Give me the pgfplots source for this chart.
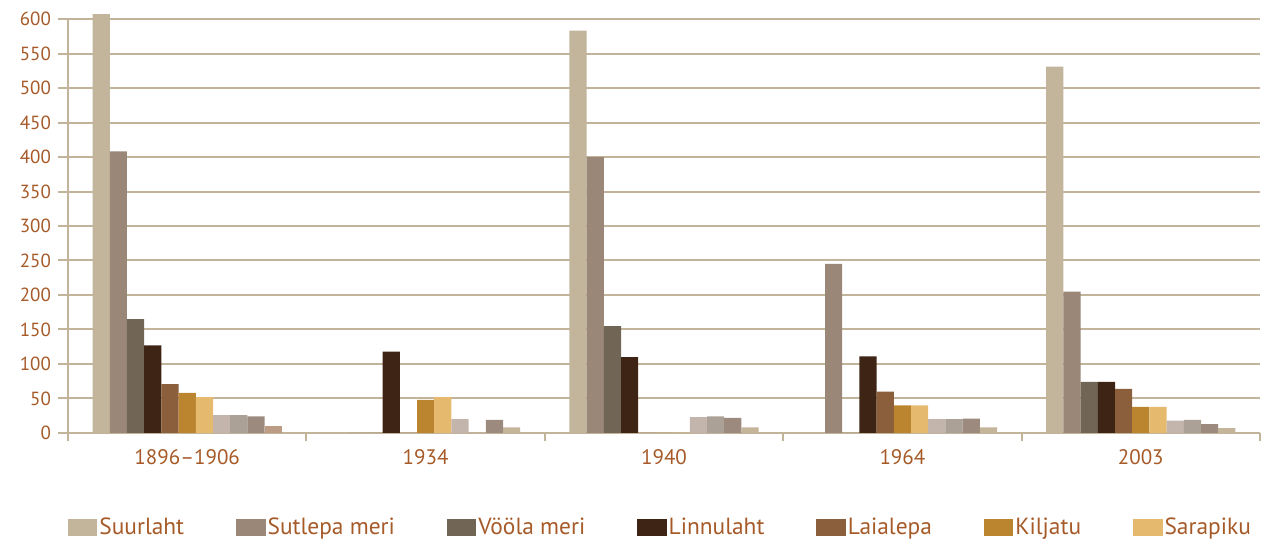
\documentclass[border=0pt]{standalone}
\usepackage{fontspec}
\setmainfont{PT Sans}
\usepackage{pgfplots}
\pgfplotsset{compat=1.18}
\definecolor{c1}{HTML}{C2B59B}
\definecolor{c2}{HTML}{9A8778}
\definecolor{c3}{HTML}{716656}
\definecolor{c4}{HTML}{3E2415}
\definecolor{c5}{HTML}{8B5E3C}
\definecolor{c6}{HTML}{BB8530}
\definecolor{c7}{HTML}{E6BA6E}
\definecolor{c8}{HTML}{C4B5AC}
\definecolor{c9}{HTML}{ACA197}
\definecolor{c10}{HTML}{9C8A7E}
\definecolor{c11a}{HTML}{BC9C84}
\definecolor{c11}{HTML}{C4B49A}
\definecolor{txt}{HTML}{A65A28}
\definecolor{gridc}{HTML}{C2B49B}
\begin{document}
\begin{tikzpicture}
\begin{axis}[
  at={(34pt,55.5pt)}, anchor=south west,
  scale only axis, width=596pt, height=207pt,
  xmin=-0.5, xmax=4.5, ymin=0, ymax=600, clip=false,
  axis lines*=left,
  axis line style={gridc, line width=1pt},
  ybar, bar width=8.6pt,
  ytick={0,50,...,600},
  ymajorgrids, grid style={gridc, line width=1pt},
  xtick={0,1,2,3,4},
  xticklabels={1896–1906,1934,1940,1964,2003},
  minor xtick={-0.5,0.5,1.5,2.5,3.5,4.5},
  xtick style={draw=none},
  minor x tick style={draw=gridc, line width=1pt},
  ytick style={draw=gridc, line width=1pt},
  tick align=outside,
  major tick length=5pt,
  minor tick length=4pt,
  /pgf/number format/assume math mode=true,
  ticklabel style={font=\fontsize{9.5}{11}\selectfont, text=txt},
  xticklabel style={font=\fontsize{10.5}{12}\selectfont, yshift=0.5pt},
  legend style={at={(0,-0.228)}, anchor=west, draw=none, fill=none,
    inner sep=0pt, outer sep=0pt,
    font=\fontsize{11.7}{13}\selectfont, text=txt,
    /tikz/every even column/.append style={column sep=25pt},
    nodes={inner sep=1pt}},
  legend columns=-1,
  legend cell align=left,
  legend image code/.code={\fill[#1, draw=none] (0pt,-4.2pt) rectangle (14.7pt,4.2pt);},
]
\addplot[fill=c1, draw=none, bar shift=-43pt] coordinates {(0,607) (1,0) (2,583) (3,0) (4,531)};
\addplot[fill=c2, draw=none, bar shift=-34.4pt] coordinates {(0,408) (1,0) (2,400) (3,245) (4,205)};
\addplot[fill=c3, draw=none, bar shift=-25.8pt] coordinates {(0,165) (1,0) (2,155) (3,0) (4,74)};
\addplot[fill=c4, draw=none, bar shift=-17.2pt] coordinates {(0,127) (1,118) (2,110) (3,111) (4,74)};
\addplot[fill=c5, draw=none, bar shift=-8.6pt] coordinates {(0,71) (1,0) (2,0) (3,60) (4,64)};
\addplot[fill=c6, draw=none, bar shift=0pt] coordinates {(0,58) (1,48) (2,0) (3,40) (4,38)};
\addplot[fill=c7, draw=none, bar shift=8.6pt] coordinates {(0,52) (1,52) (2,0) (3,40) (4,38)};
\addplot[fill=c8, draw=none, bar shift=17.2pt, forget plot] coordinates {(0,26) (1,20) (2,23) (3,20) (4,18)};
\addplot[fill=c9, draw=none, bar shift=25.8pt, forget plot] coordinates {(0,26) (1,0) (2,24) (3,20) (4,19)};
\addplot[fill=c10, draw=none, bar shift=34.4pt, forget plot] coordinates {(0,24) (1,19) (2,22) (3,21) (4,13)};
\addplot[fill=c11a, draw=none, bar shift=43pt, forget plot] coordinates {(0,10)};
\addplot[fill=c11, draw=none, bar shift=43pt, forget plot] coordinates {(1,8) (2,8) (3,8) (4,7)};
\legend{Suurlaht,Sutlepa meri,Vööla meri,Linnulaht,Laialepa,Kiljatu,Sarapiku}
\end{axis}
\pgfresetboundingbox
\path[use as bounding box] (0,0) rectangle (637pt,272pt);
\end{tikzpicture}
\end{document}
